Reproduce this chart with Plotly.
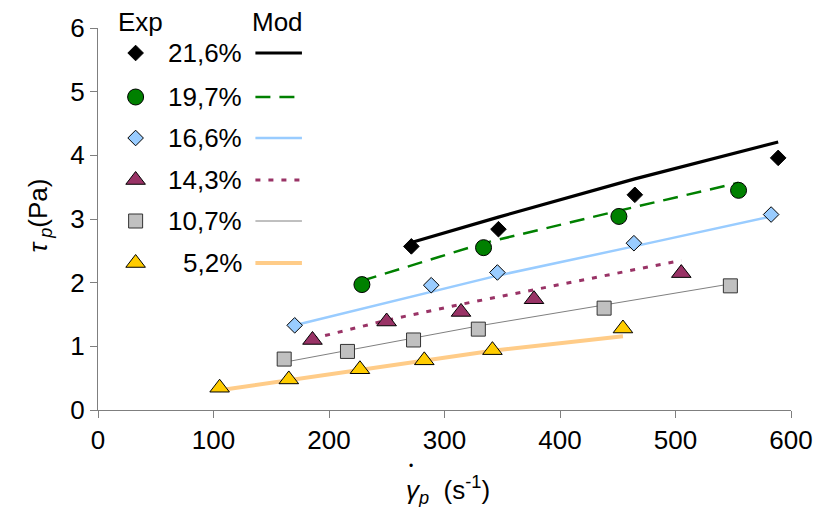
import plotly.graph_objects as go

# ---------------- data ----------------
labels = ["21,6%", "19,7%", "16,6%", "14,3%", "10,7%", "5,2%"]

x_216 = [271.3, 346.7, 464.8, 588.9]
exp_216 = [2.57, 2.84, 3.38, 3.96]
mod_216 = [2.63, 3.03, 3.63, 4.21]

x_197 = [228.5, 333.8, 451.0, 554.6]
exp_197 = [1.97, 2.55, 3.04, 3.45]
mod_197 = [2.03, 2.62, 3.13, 3.57]

x_166 = [170.3, 288.5, 345.8, 464.0, 582.8]
exp_166 = [1.33, 1.96, 2.16, 2.62, 3.07]
mod_166 = [1.33, 1.85, 2.11, 2.57, 3.04]

x_143 = [185.7, 249.9, 314.3, 377.5, 505.0]
exp_143 = [1.10, 1.39, 1.54, 1.74, 2.15]
mod_143 = [1.12, 1.41, 1.66, 1.89, 2.35]

x_107 = [161.2, 216.0, 273.2, 329.3, 438.2, 547.5]
exp_107 = [0.80, 0.92, 1.10, 1.27, 1.60, 1.95]
mod_107 = [0.75, 0.94, 1.13, 1.32, 1.65, 1.98]

x_52 = [105.3, 165.2, 226.8, 282.5, 341.5, 454.5]
exp_52 = [0.35, 0.48, 0.64, 0.78, 0.94, 1.28]
mod_52 = [0.31, 0.47, 0.63, 0.77, 0.93, 1.16]

x_ticks = [0, 100, 200, 300, 400, 500, 600]
y_ticks = [0, 1, 2, 3, 4, 5, 6]

# ---------------- styles ----------------
FONT = "Liberation Sans, Arial, sans-serif"
FS = 26
series = [
    dict(x=x_216, e=exp_216, m=mod_216,
         mk=dict(symbol="diamond", size=12, color="black", line=dict(color="black", width=1)),
         ln=dict(color="black", width=3.2)),
    dict(x=x_197, e=exp_197, m=mod_197,
         mk=dict(symbol="circle", size=16, color="#008000", line=dict(color="black", width=1)),
         ln=dict(color="#008000", width=2.5, dash="15px,9px")),
    dict(x=x_166, e=exp_166, m=mod_166,
         mk=dict(symbol="diamond", size=12, color="#99CCFF", line=dict(color="black", width=1)),
         ln=dict(color="#99CCFF", width=2.5)),
    dict(x=x_143, e=exp_143, m=mod_143,
         mk=dict(symbol="triangle-up", size=17, color="#993366", line=dict(color="black", width=1)),
         ln=dict(color="#993366", width=3, dash="5px,8px")),
    dict(x=x_107, e=exp_107, m=mod_107,
         mk=dict(symbol="square", size=14, color="#C0C0C0", line=dict(color="#333333", width=1)),
         ln=dict(color="#808080", width=1)),
    dict(x=x_52, e=exp_52, m=mod_52,
         mk=dict(symbol="triangle-up", size=17, color="#FFCC00", line=dict(color="black", width=1)),
         ln=dict(color="#FFCC88", width=4)),
]

fig = go.Figure()

# model lines first, experimental markers on top
for s in series:
    fig.add_trace(go.Scatter(x=s["x"], y=s["m"], mode="lines", line=s["ln"],
                             showlegend=False, hoverinfo="skip"))
for s in series:
    fig.add_trace(go.Scatter(x=s["x"], y=s["e"], mode="markers", marker=s["mk"],
                             showlegend=False, cliponaxis=False))

# ---------------- custom legend (plot-fraction coordinates) ----------------
W0, W1, H0, H1 = 98, 798, 410, 28
def fx(px):
    return (px - W0) / (W1 - W0)
def fy(py):
    return (H0 - py) / (H0 - H1)

row_y = [53, 97, 138, 180, 221, 263]
annotations = []
for s, lab, ry in zip(series, labels, row_y):
    fig.add_trace(go.Scatter(x=[fx(257), fx(304)], y=[fy(ry), fy(ry)], mode="lines",
                             line=s["ln"], xaxis="x2", yaxis="y2",
                             showlegend=False, hoverinfo="skip"))
    fig.add_trace(go.Scatter(x=[fx(136)], y=[fy(ry)], mode="markers", marker=s["mk"],
                             xaxis="x2", yaxis="y2", showlegend=False, hoverinfo="skip",
                             cliponaxis=False))
    annotations.append(dict(x=fx(245), y=fy(ry), xref="paper", yref="paper",
                            text=lab, showarrow=False, xanchor="right", yanchor="middle",
                            font=dict(family=FONT, size=FS, color="black")))

annotations.append(dict(x=fx(141), y=fy(22), xref="paper", yref="paper", text="Exp",
                        showarrow=False, xanchor="center", yanchor="middle",
                        font=dict(family=FONT, size=FS, color="black")))
annotations.append(dict(x=fx(279), y=fy(22), xref="paper", yref="paper", text="Mod",
                        showarrow=False, xanchor="center", yanchor="middle",
                        font=dict(family=FONT, size=FS, color="black")))

# axis titles
annotations.append(dict(x=fx(452), y=fy(490), xref="paper", yref="paper",
                        text="<i>γ</i><sub><i>p</i></sub>\u00a0\u00a0(s<sup>-1</sup>)",
                        showarrow=False, xanchor="center", yanchor="middle",
                        font=dict(family=FONT, size=FS, color="black")))
annotations.append(dict(x=fx(414), y=fy(466), xref="paper", yref="paper",
                        text="•", showarrow=False, xanchor="center", yanchor="middle",
                        font=dict(family=FONT, size=12, color="black")))
annotations.append(dict(x=fx(38), y=fy(216), xref="paper", yref="paper",
                        text="<i>τ</i><sub>\u00a0<i>p</i></sub>(Pa)", textangle=-90,
                        showarrow=False, xanchor="center", yanchor="middle",
                        font=dict(family=FONT, size=FS, color="black")))

axis_common = dict(showline=True, linecolor="#7f7f7f", linewidth=1, ticks="outside",
                   ticklen=7, tickcolor="#7f7f7f", tickwidth=1, showgrid=False,
                   zeroline=False, tickfont=dict(family=FONT, size=FS, color="black"))

fig.update_layout(
    width=825, height=507,
    margin=dict(l=W0, r=825 - W1, t=H1, b=507 - H0),
    paper_bgcolor="white", plot_bgcolor="white",
    showlegend=False,
    xaxis=dict(range=[0, 600], tickvals=x_ticks, **axis_common),
    yaxis=dict(range=[0, 6], tickvals=y_ticks, **axis_common),
    xaxis2=dict(overlaying="x", range=[0, 1], visible=False, fixedrange=True),
    yaxis2=dict(overlaying="y", range=[0, 1], visible=False, fixedrange=True),
    annotations=annotations,
)

fig.write_html("out.html")
